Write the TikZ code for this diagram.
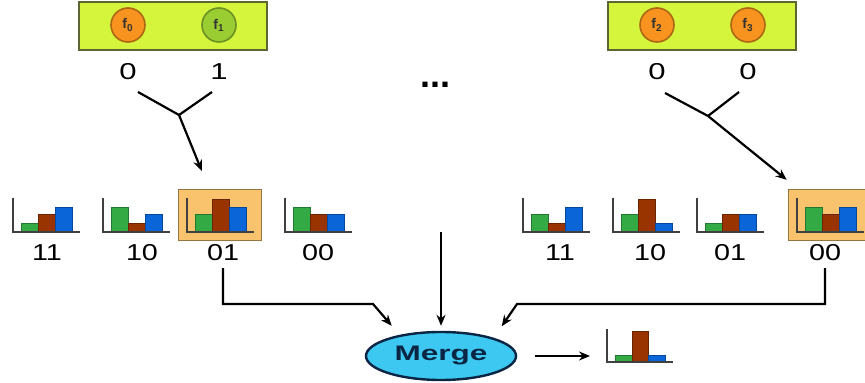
\documentclass[tikz,border=0pt]{standalone}
\usepackage{fontspec}
\setmainfont{Liberation Sans}
\usetikzlibrary{arrows.meta, positioning, shapes.geometric, calc}

\definecolor{panelyellow}{HTML}{D4F53C}
\definecolor{paneledge}{HTML}{5C6630}
\definecolor{featorange}{HTML}{F7931E}
\definecolor{featgreen}{HTML}{9ACD32}
\definecolor{hiliteorange}{HTML}{F9C36E}
\definecolor{bargreen}{HTML}{33AA44}
\definecolor{barbrown}{HTML}{993300}
\definecolor{barblue}{HTML}{0A66D8}
\definecolor{mergecyan}{HTML}{3CC8F0}
\definecolor{mergenavy}{HTML}{0B2545}

\newcommand{\widetxt}[2][1.35]{\scalebox{#1}[1]{#2}}

\begin{document}
\begin{tikzpicture}[
  x=0.5pt, y=-0.5pt,
  >={Stealth[length=5.5pt,width=4.5pt]},
  panel/.style={draw=paneledge, thick, fill=panelyellow, minimum width=94pt, minimum height=24pt, inner sep=0pt},
  feat/.style={circle, draw=#1!70!black, thick, fill=#1, minimum size=17pt, inner sep=0pt,
    font=\fontsize{7}{7}\selectfont\bfseries, text=black!80},
  bit/.style={font=\fontsize{11.5}{13}\selectfont},
  hilite/.style={draw=hiliteorange!60!black, fill=hiliteorange, minimum width=41.5pt, minimum height=25.5pt, inner sep=0pt},
  axis/.style={draw=black!75, line width=1pt},
  link/.style={line width=1.1pt},
  conn/.style={line width=1.1pt, ->},
]
\useasboundingbox (0,0) rectangle (865,383);

% --- feature panels ---
\node[panel] (panelL) at (173,26) {};
\node[feat=featorange] (f0) at (128,25) {f\textsubscript{0}};
\node[feat=featgreen] (f1) at (219,25) {f\textsubscript{1}};
\node[panel] (panelR) at (702,26) {};
\node[feat=featorange] (f2) at (657,25) {f\textsubscript{2}};
\node[feat=featorange] (f3) at (748,25) {f\textsubscript{3}};

% bit values
\node[bit] (bit0) at (128,72) {\widetxt{0}};
\node[bit] (bit1) at (219,72) {\widetxt{1}};
\node[bit] (bit2) at (657,72) {\widetxt{0}};
\node[bit] (bit3) at (748,72) {\widetxt{0}};
\node[font=\fontsize{18}{18}\selectfont\bfseries] (dots) at (435,85) {...};

% --- selected cells ---
\node[hilite] (selL) at (219.5,214.5) {};
\node[hilite] (selR) at (829.5,214.5) {};

% --- histograms ---
\foreach \x/\g/\r/\b/\lx/\lbl [count=\i] in {13/9/18/25/47/11, 103/25/9/18/142/10, 187/18/33/25/223/01, 285/25/18/18/318/00, 523/18/9/25/560/11, 613/18/33/9/650/10, 697/9/18/18/730/01, 797/25/18/25/825/00} {
  \filldraw[fill=bargreen, draw=bargreen!70!black] (\x+8,232) rectangle ++(17,-\g);
  \filldraw[fill=barbrown, draw=barbrown!70!black] (\x+25,232) rectangle ++(17,-\r);
  \filldraw[fill=barblue, draw=barblue!70!black] (\x+42,232) rectangle ++(17,-\b);
  \draw[axis] (\x,198) -- (\x,232) -- (\x+67,232);
  \node[bit] (lab\i) at (\lx,253) {\widetxt[1.25]{\lbl}};
}

% --- merge ---
\node[ellipse, draw=mergenavy, line width=1.2pt, fill=mergecyan, minimum width=73.5pt, minimum height=24pt,
  font=\fontsize{10.5}{12}\selectfont\bfseries, text=mergenavy] (merge) at (441,356) {\widetxt[1.5]{Merge}};
\coordinate (res) at (607,356);
\filldraw[fill=bargreen, draw=bargreen!70!black] (615,362) rectangle ++(17,-7);
\filldraw[fill=barbrown, draw=barbrown!70!black] (632,362) rectangle ++(16,-31);
\filldraw[fill=barblue, draw=barblue!70!black] (648,362) rectangle ++(17,-7);
\draw[axis] (607,329) -- (607,362) -- (673,362);

% --- connectors ---
\coordinate (jl) at (179,115);
\coordinate (jr) at (708,116);
\draw[link] ($(bit0)+(10,20)$) -- (jl);
\draw[link] ($(bit1)+(-7,20)$) -- (jl);
\draw[conn, shorten >=9.5pt] (jl) -- (selL);
\draw[link] ($(bit2)+(8,21)$) -- (jr);
\draw[link] ($(bit3)+(-9,20)$) -- (jr);
\draw[conn, shorten >=7pt] (jr) -- (selR);

\coordinate (kc) at (441,232);
\draw[conn, shorten >=6pt] (lab3.south) |- (373,304) -- (merge.153);
\draw[conn, shorten >=2.5pt] (kc) -- (merge.north);
\draw[conn, shorten >=7pt] (lab8.south) |- (517,304) -- (merge.19);
\draw[conn, shorten <=9pt, shorten >=8.5pt] (merge.east) -- (res);

\end{tikzpicture}
\end{document}
